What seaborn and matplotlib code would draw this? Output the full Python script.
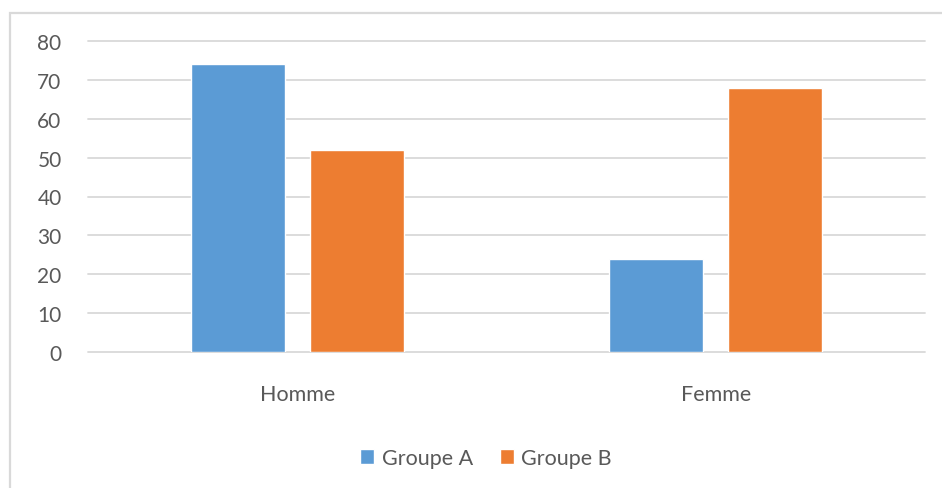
import matplotlib
matplotlib.use("Agg")
import matplotlib.pyplot as plt
from matplotlib.patches import Rectangle
import seaborn as sns
import pandas as pd

categories = ["Homme", "Femme"]
groupe_a = [74, 24]
groupe_b = [52, 68]
series_names = ["Groupe A", "Groupe B"]
y_ticks = [0, 10, 20, 30, 40, 50, 60, 70, 80]

df = pd.DataFrame({
    "sexe": categories * 2,
    "valeur": groupe_a + groupe_b,
    "groupe": [series_names[0]] * 2 + [series_names[1]] * 2,
})

sns.set_theme(style="white")
plt.rcParams["font.family"] = ["Lato", "DejaVu Sans"]

text_color = "#595959"
grid_color = "#D9D9D9"
palette = {"Groupe A": "#5B9BD5", "Groupe B": "#ED7D31"}

W, H = 942, 489
fig = plt.figure(figsize=(W / 100, H / 100), dpi=100)
fig.patch.set_facecolor("white")

# chart frame
fig.patches.append(Rectangle((9.5 / W, -0.1), 1.2, (H - 13.5) / H + 0.1,
                             transform=fig.transFigure, fill=False,
                             edgecolor=grid_color, linewidth=1.6))

ax = fig.add_axes([88 / W, 1 - 353 / H, (925 - 88) / W, (353 - 42) / H])
sns.barplot(data=df, x="sexe", y="valeur", hue="groupe", order=categories,
            hue_order=series_names, palette=palette, width=0.568, gap=0.21,
            saturation=1, ax=ax, legend=True, zorder=3)

ax.set_xlim(-0.5, 1.5)
ax.set_ylim(0, 80)
ax.set_yticks(y_ticks)
ax.set_xlabel("")
ax.set_ylabel("")
for s in ax.spines.values():
    s.set_visible(False)
ax.yaxis.grid(True, color=grid_color, linewidth=1.3)
for gl in ax.get_ygridlines():
    gl.set_clip_on(False)
ax.set_axisbelow(True)
ax.tick_params(axis="y", length=0, pad=19, labelsize=15, labelcolor=text_color)
ax.tick_params(axis="x", length=0, pad=23, labelsize=15.5, labelcolor=text_color)

handles, labels = ax.get_legend_handles_labels()
ax.legend_.remove()
fig.legend(handles, labels, loc="center", bbox_to_anchor=(486 / W, 1 - 459 / H),
           ncol=2, frameon=False, fontsize=15.5, labelcolor=text_color,
           handlelength=0.65, handleheight=0.65, handletextpad=0.35,
           columnspacing=1.25)

fig.savefig("out.png", dpi=100, facecolor="white")
